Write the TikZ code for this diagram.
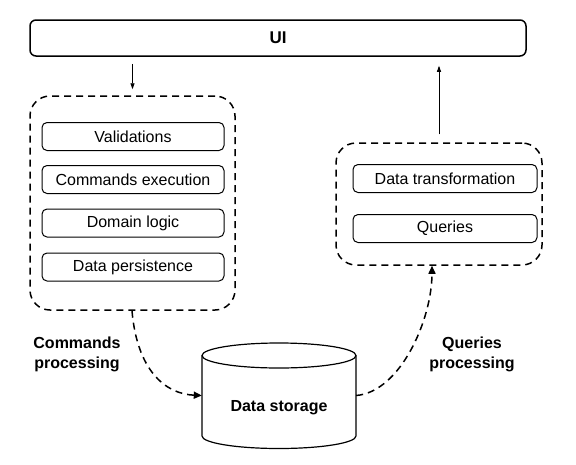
\documentclass[tikz,border=0pt]{standalone}
\usepackage{fontspec}
\setmainfont{Liberation Sans}
\usetikzlibrary{arrows.meta}
\begin{document}
\begin{tikzpicture}[x=1pt,y=-1pt,
  uibox/.style={draw, line width=1.5pt, rounded corners=6pt, minimum width=496pt, minimum height=36pt, inner sep=0pt, font=\fontsize{17}{20}\selectfont\bfseries},
  group/.style={draw, line width=1.5pt, dash pattern=on 7pt off 5pt, rounded corners=20pt, inner sep=0pt},
  item/.style={draw, line width=1pt, rounded corners=5pt, minimum height=28pt, inner sep=0pt, font=\fontsize{16}{18}\selectfont},
  lbl/.style={font=\fontsize{16}{20}\selectfont\bfseries, align=center},
  flow/.style={line width=1.5pt, dash pattern=on 7pt off 5pt, -{Triangle[length=8pt,width=7pt]}},
  thinarrow/.style={line width=0.8pt, -{Triangle[length=6pt,width=4pt]}}
]
\fill[white] (0,0) rectangle (576,464);
\useasboundingbox (0,0) rectangle (576,464);

% UI
\node[uibox] (ui) at (278,38) {UI};

% command group
\node[group, minimum width=205pt, minimum height=214pt] (cmd) at (132.5,203) {};
\node[item, minimum width=182pt] (val) at (133,136.5) {Validations};
\node[item, minimum width=182pt] (exe) at (133,179.5) {Commands execution};
\node[item, minimum width=182pt] (dom) at (133,223) {Domain logic};
\node[item, minimum width=182pt] (per) at (133,267) {Data persistence};

% query group
\node[group, minimum width=206pt, minimum height=122pt] (qry) at (439,204) {};
\node[item, minimum width=184pt] (tra) at (445,178.5) {Data transformation};
\node[item, minimum width=184pt] (que) at (445,228.5) {Queries};

% data storage cylinder
\node[minimum width=154pt, minimum height=105pt, inner sep=0pt] (db) at (279,395.5) {};
\draw[line width=1.2pt] (279,355.5) ellipse [x radius=77, y radius=12.5];
\draw[line width=1.2pt] (202,355.5) -- (202,436) arc[start angle=180, end angle=0, x radius=77, y radius=12.5] -- (356,355.5);
\node[lbl] (dbt) at (279,408) {Data storage};

% labels
\node[lbl] (cl) at (77,354) {Commands\\processing};
\node[lbl] (ql) at (472,354) {Queries\\processing};

% arrows
\draw[thinarrow, shorten <=7pt, shorten >=6pt] (ui.south -| cmd.north) -- (cmd.north);
\draw[thinarrow, shorten <=8pt, shorten >=9pt] (qry.north) -- (ui.south -| qry.north);

\draw[flow] ([xshift=-0.5pt]cmd.south) .. controls (137,370) and (165,394) .. (db.west);
\coordinate (qin) at ([xshift=-7pt]qry.south);
\draw[flow] (db.east) .. controls (400,392) and (432,320) .. (qin);
\end{tikzpicture}
\end{document}
